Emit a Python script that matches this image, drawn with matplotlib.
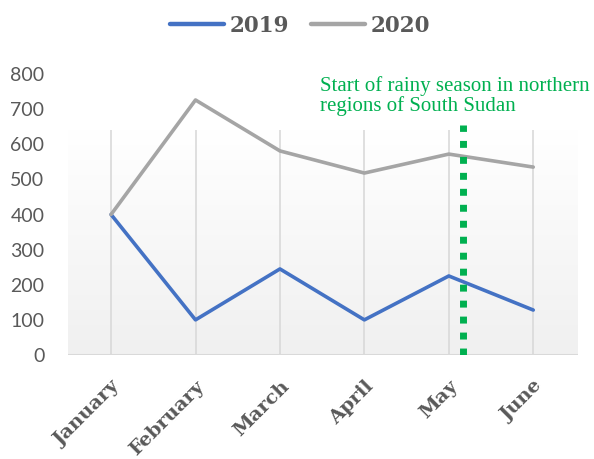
import numpy as np
import matplotlib.pyplot as plt

# values
months = ["January", "February", "March", "April", "May", "June"]
y2019 = [400, 100, 245, 100, 225, 128]
y2020 = [400, 726, 581, 518, 572, 535]
rain_start = 4.17   # position of the dotted marker between May and June
note = "Start of rainy season in northern\nregions of South Sudan"

fig = plt.figure(figsize=(5.94, 4.59), dpi=100)
ax = fig.add_axes([68 / 594, 104 / 459, 510 / 594, 281 / 459])

x = np.arange(len(months))
ax.set_xlim(-0.51, 5.53)
ax.set_ylim(0, 800)

# light gradient plot area (white on top, light gray at bottom)
grad = np.linspace(1.0, 0.0, 256).reshape(-1, 1)
ax.imshow(grad, cmap=plt.matplotlib.colors.LinearSegmentedColormap.from_list(
    "bg", ["#F0F0F0", "#FFFFFF"]), aspect="auto",
    extent=(-0.51, 5.53, 0, 640), origin="upper", zorder=0, vmin=0, vmax=1)

ax.vlines(x, 0, 640, color="#D9D9D9", lw=1.2, zorder=1)
ax.axhline(0, color="#D9D9D9", lw=1.5, zorder=1)

ax.plot(x, y2019, color="#4472C4", lw=2.6, solid_capstyle="round", label="2019", zorder=3)
ax.plot(x, y2020, color="#A5A5A5", lw=2.6, solid_capstyle="round", label="2020", zorder=3)

ax.plot([rain_start, rain_start], [0, 655], color="#00B050", lw=5,
        dashes=(1, 1.3), zorder=4)
ax.text(2.48, 795, note, color="#00B050", family="Liberation Serif",
        fontsize=15, va="top", ha="left", linespacing=1.0)

for s in ax.spines.values():
    s.set_visible(False)

ax.set_yticks(range(0, 801, 100))
ax.set_xticks(x)
ax.set_xticklabels(months, rotation=45, ha="right", rotation_mode="anchor",
                   family="DejaVu Serif", fontweight="bold", fontsize=14,
                   color="#595959")
ax.tick_params(axis="both", length=0)
ax.tick_params(axis="x", pad=16)
ax.tick_params(axis="y", pad=17)
for lab in ax.get_yticklabels():
    lab.set_fontsize(14)
    lab.set_color("#595959")
    lab.set_family("Lato")

leg = fig.legend(loc="upper center", bbox_to_anchor=(0.505, 1.01), ncol=2,
                 frameon=False, handlelength=2.5, columnspacing=1.05,
                 handletextpad=0.25,
                 prop={"family": "DejaVu Serif", "weight": "bold", "size": 15.5})
for t in leg.get_texts():
    t.set_color("#595959")
for h in leg.get_lines():
    h.set_linewidth(3.2)

fig.savefig("out.png", dpi=100)
